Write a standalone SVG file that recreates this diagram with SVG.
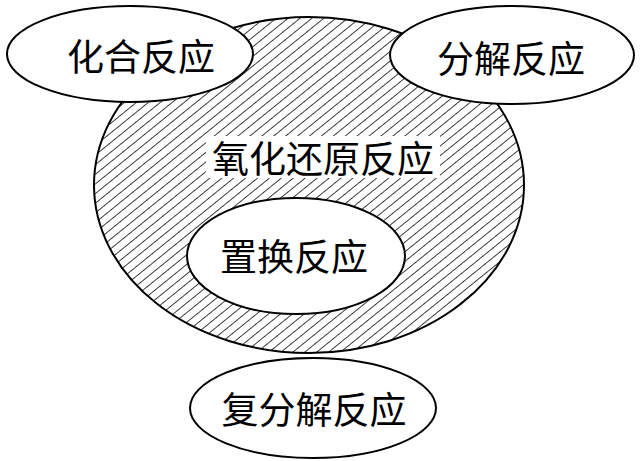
<svg xmlns="http://www.w3.org/2000/svg" width="641" height="461" viewBox="0 0 641 461">
<defs>
<pattern id="hatch" patternUnits="userSpaceOnUse" width="7.5" height="10" patternTransform="rotate(51)">
<line x1="0" y1="-1" x2="0" y2="11" stroke="#000" stroke-width="1.5"/>
</pattern>
<style>
.e{stroke:#000;stroke-width:2;fill:#fff}
.t{font-family:"Noto Sans CJK SC","Noto Sans CJK JP",sans-serif;font-size:37px;fill:#000;text-anchor:middle;dominant-baseline:central}
</style>
</defs>
<rect width="641" height="461" fill="#fff"/>
<g id="redox">
<ellipse cx="309" cy="185" rx="215" ry="168" stroke="#000" stroke-width="2" fill="url(#hatch)"/>
<rect x="206" y="136" width="234" height="42" fill="#fff"/>
<text class="t" x="323" y="157">氧化还原反应</text>
</g>
<g id="combination">
<ellipse class="e" cx="130" cy="54" rx="123" ry="48"/>
<text class="t" x="141" y="55">化合反应</text>
</g>
<g id="decomposition">
<ellipse class="e" cx="512" cy="55" rx="122" ry="49"/>
<text class="t" x="511" y="57">分解反应</text>
</g>
<g id="displacement">
<ellipse class="e" cx="296" cy="256" rx="109" ry="58"/>
<text class="t" x="294" y="255">置换反应</text>
</g>
<g id="double-decomposition">
<ellipse class="e" cx="313" cy="408" rx="123" ry="50"/>
<text class="t" x="314" y="408">复分解反应</text>
</g>
<g id="connectors"/>
</svg>
